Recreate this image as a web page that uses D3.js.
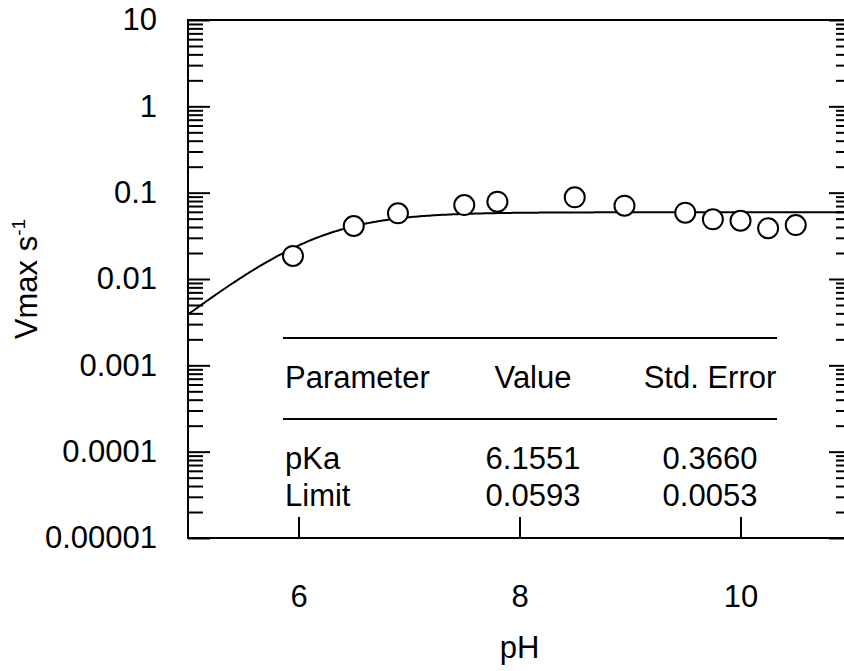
<!DOCTYPE html>
<html>
<head>
<meta charset="utf-8">
<script src="https://cdn.jsdelivr.net/npm/d3@7"></script>
<style>
  html, body { margin: 0; padding: 0; background: #fff; }
  svg { display: block; }
  text { font-family: "Liberation Sans", Arial, sans-serif; fill: #000; }
</style>
</head>
<body>
<svg id="chart" width="844" height="671"></svg>
<script>
// Measured rates versus pH
const phValues   = [5.95, 6.5, 6.9, 7.5, 7.8, 8.5, 8.95, 9.5, 9.75, 10.0, 10.25, 10.5];
const vmaxValues = [0.0185, 0.0411, 0.0577, 0.0719, 0.0786, 0.0883, 0.0706, 0.0586, 0.0491, 0.0473, 0.0387, 0.0422];

// Fitted single-ionisation model parameters
const paramNames  = ["pKa", "Limit"];
const paramValues = [6.1551, 0.0593];
const paramErrors = [0.3660, 0.0053];
const tableHeaders = ["Parameter", "Value", "Std. Error"];

// Axis ticks
const xTicks = [6, 8, 10];
const yTicks = [1e-5, 1e-4, 1e-3, 1e-2, 1e-1, 1, 10];
const yTickLabels = ["0.00001", "0.0001", "0.001", "0.01", "0.1", "1", "10"];

(function draw() {
  const svg = d3.select("#chart");
  const pLeft = 188, pRight = 851, pTop = 20, pBottom = 538;
  const FONT = 31;

  const x = d3.scaleLinear().domain([5, 11]).range([pLeft, pRight]);
  const y = d3.scaleLog().domain([1e-5, 10]).range([pBottom, pTop]);

  // minor log ticks 2..9 per decade
  const yMinor = [];
  for (let e = -5; e < 1; e++) for (let k = 2; k <= 9; k++) yMinor.push(k * Math.pow(10, e));

  const styleAxis = g => {
    g.select(".domain").remove();
    g.selectAll(".tick line").attr("stroke", "#000").attr("stroke-width", 2);
    g.selectAll(".tick text").attr("font-size", FONT).attr("font-family", "Liberation Sans, Arial, sans-serif").attr("fill", "#000");
  };

  // left axis: major ticks with labels, minor ticks inward
  svg.append("g").attr("transform", `translate(${pLeft},0)`)
    .call(d3.axisLeft(y).tickValues(yTicks).tickSize(-22).tickPadding(31)
      .tickFormat((d, i) => yTickLabels[i]))
    .call(styleAxis);
  svg.append("g").attr("transform", `translate(${pLeft},0)`)
    .call(d3.axisLeft(y).tickValues(yMinor).tickSize(-15).tickFormat(""))
    .call(styleAxis);

  // right axis ticks (inward, no labels)
  svg.append("g").attr("transform", `translate(${pRight},0)`)
    .call(d3.axisRight(y).tickValues(yTicks).tickSize(-22).tickFormat(""))
    .call(styleAxis);
  svg.append("g").attr("transform", `translate(${pRight},0)`)
    .call(d3.axisRight(y).tickValues(yMinor).tickSize(-15).tickFormat(""))
    .call(styleAxis);

  // bottom axis
  svg.append("g").attr("transform", `translate(0,${pBottom})`)
    .call(d3.axisBottom(x).tickValues(xTicks).tickSize(-21).tickPadding(47).tickFormat(d3.format("d")))
    .call(styleAxis);

  // frame
  svg.append("rect")
    .attr("x", pLeft).attr("y", pTop)
    .attr("width", pRight - pLeft).attr("height", pBottom - pTop)
    .attr("fill", "none").attr("stroke", "#000").attr("stroke-width", 2);

  // axis titles
  svg.append("text")
    .attr("x", x(8)).attr("y", 658)
    .attr("text-anchor", "middle").attr("font-size", FONT)
    .text("pH");

  const yTitle = svg.append("text")
    .attr("transform", `translate(37,${(pTop + pBottom) / 2}) rotate(-90)`)
    .attr("text-anchor", "middle").attr("font-size", FONT);
  yTitle.append("tspan").text("Vmax s");
  yTitle.append("tspan").attr("font-size", 19).attr("dy", -12).text("-1");

  // fitted curve: Limit / (1 + 10^(pKa - pH))
  const [pKa, limit] = paramValues;
  const curvePts = d3.range(5, 11.0001, 0.02).map(p => [p, limit / (1 + Math.pow(10, pKa - p))]);
  svg.append("defs").append("clipPath").attr("id", "plotClip")
    .append("rect").attr("x", pLeft).attr("y", pTop).attr("width", pRight - pLeft).attr("height", pBottom - pTop);

  svg.append("path")
    .datum(curvePts)
    .attr("clip-path", "url(#plotClip)")
    .attr("fill", "none").attr("stroke", "#000").attr("stroke-width", 2)
    .attr("d", d3.line().x(d => x(d[0])).y(d => y(d[1])));

  // data points
  svg.append("g").selectAll("circle")
    .data(phValues.map((p, i) => [p, vmaxValues[i]]))
    .join("circle")
    .attr("cx", d => x(d[0])).attr("cy", d => y(d[1]))
    .attr("r", 10)
    .attr("fill", "#fff").attr("stroke", "#000").attr("stroke-width", 2);

  // parameter table
  const tbl = svg.append("g");
  const tLeft = 283, tRight = 777;
  const colX = [285, 533, 710];
  const colAnchor = ["start", "middle", "middle"];
  [338, 419].forEach(ly => {
    tbl.append("line").attr("x1", tLeft).attr("x2", tRight).attr("y1", ly).attr("y2", ly)
      .attr("stroke", "#000").attr("stroke-width", 2);
  });
  tableHeaders.forEach((h, i) => {
    tbl.append("text").attr("x", colX[i]).attr("y", 388)
      .attr("text-anchor", colAnchor[i]).attr("font-size", FONT).text(h);
  });
  paramNames.forEach((n, r) => {
    const row = [n, paramValues[r].toFixed(4), paramErrors[r].toFixed(4)];
    row.forEach((t, i) => {
      tbl.append("text").attr("x", colX[i]).attr("y", 469 + r * 37)
        .attr("text-anchor", colAnchor[i]).attr("font-size", FONT).text(t);
    });
  });
})();
</script>
</body>
</html>
